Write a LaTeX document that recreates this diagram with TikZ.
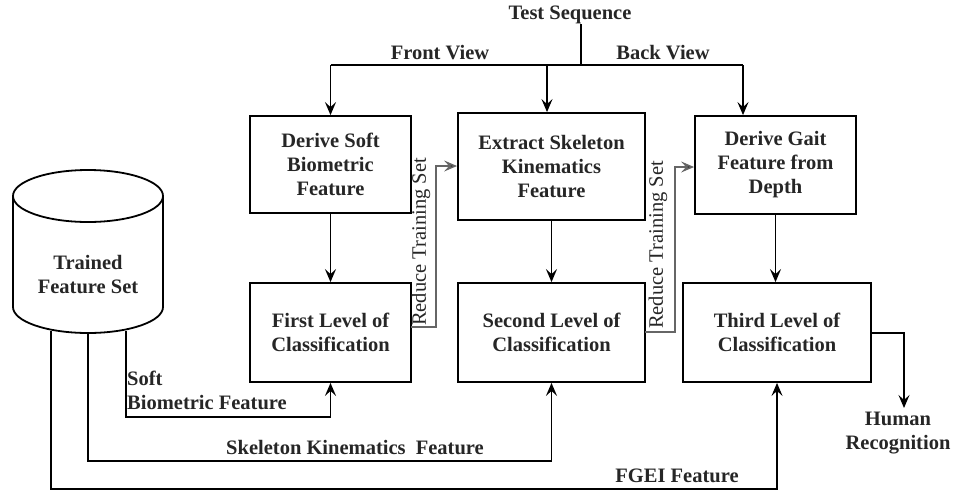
\documentclass[tikz,border=0pt]{standalone}
\usepackage{fontspec}
\setmainfont{Liberation Serif}
\usetikzlibrary{arrows.meta}
\tikzset{
  every node/.style={font=\bfseries\fontsize{20.5}{24}\selectfont, inner sep=0pt, text=black!85},
  box/.style={draw, line width=1.8pt, align=center},
  conn/.style={line width=1.8pt, -{Stealth[length=13pt,width=11pt,inset=5pt]}},
  plain/.style={line width=1.8pt},
  reduce/.style={line width=1.5pt, draw=black!60, -{Stealth[length=13pt,width=11pt,inset=5pt,fill=black!80]}},
  rlbl/.style={rotate=90, font=\mdseries\fontsize{20.5}{24}\selectfont},
  lbl/.style={align=center}
}
\begin{document}
\begin{tikzpicture}[x=1pt,y=-1pt]
\useasboundingbox (0,0) rectangle (953,491);
% boxes
\node[box, minimum width=161pt, minimum height=97pt] (b1) at (330.5,164.5) {Derive Soft\\Biometric\\Feature};
\node[box, minimum width=187pt, minimum height=107pt] (b2) at (551.5,166.5) {Extract Skeleton\\Kinematics\\Feature};
\node[box, minimum width=161pt, minimum height=98pt] (b3) at (775.5,165) {Derive Gait\\Feature from\\Depth};
\node[box, minimum width=161pt, minimum height=99pt] (c1) at (330.5,332.5) {First Level of\\Classification};
\node[box, minimum width=187pt, minimum height=99pt] (c2) at (551.5,332.5) {Second Level of\\Classification};
\node[box, minimum width=188pt, minimum height=99pt] (c3) at (777,332.5) {Third Level of\\Classification};
% cylinder
\draw[line width=1.8pt] (88,196) ellipse [x radius=75pt, y radius=26pt];
\draw[line width=1.8pt] (13,196) -- (13,307) arc[start angle=180, end angle=360, x radius=75pt, y radius=26pt] -- (163,196);
\node[lbl] (db) at (88,275) {Trained\\Feature Set};
% top
\node (ts) at (570,15) {Test Sequence};
\coordinate (tsb) at (581,65);
\coordinate (fl) at (330.5,65);
\coordinate (bl) at (743,65);
\coordinate (ml) at (547,65);
\draw[plain] (ts.south -| tsb) -- (tsb);
\draw[conn] (fl) -- (b1.north);
\draw[plain] (fl) -- (bl);
\draw[conn] (ml) -- (ml |- b2.north);
\draw[conn] (bl) -- (bl |- b3.north);
\node (fv) at (440,53) {Front View};
\node (bv) at (663,53) {Back View};
% vertical
\draw[conn] (b1.south) -- (c1.north);
\draw[conn] (b2.south) -- (c2.north);
\draw[conn] (b3.south) -- (b3.south |- c3.north);
% reduce training set
\coordinate (r1a) at (411,327);
\coordinate (r1b) at (436,327);
\coordinate (r1c) at (436,166);
\draw[reduce] (r1a) -- (r1b) -- (r1c) -- (r1c -| b2.west);
\node[rlbl] (rt1) at (421,242) {Reduce Training Set};
\coordinate (r2a) at (645,332);
\coordinate (r2b) at (675,332);
\coordinate (r2c) at (675,167);
\draw[reduce] (r2a) -- (r2b) -- (r2c) -- (r2c -| b3.west);
\node[rlbl] (rt2) at (658,245) {Reduce Training Set};
% feature lines from cylinder
\coordinate (s1) at (126,331);
\coordinate (s2) at (88,333);
\coordinate (s3) at (51,331);
\draw[conn] (s1) -- (126,417) -| (c1.south);
\draw[conn] (s2) -- (88,461) -| (c2.south);
\draw[conn] (s3) -- (51,489) -| (c3.south);
\node[align=left, anchor=west] (sb) at (127,390) {Soft\\Biometric Feature};
\node (sk) at (355,448) {Skeleton Kinematics\ \ Feature};
\node (fg) at (677,476) {FGEI Feature};
% output
\node[lbl] (hr) at (898,433) {Human\\Recognition};
\draw[conn] (c3.east |- 0,333) -- (904,333) -- (904,408);
\end{tikzpicture}
\end{document}
